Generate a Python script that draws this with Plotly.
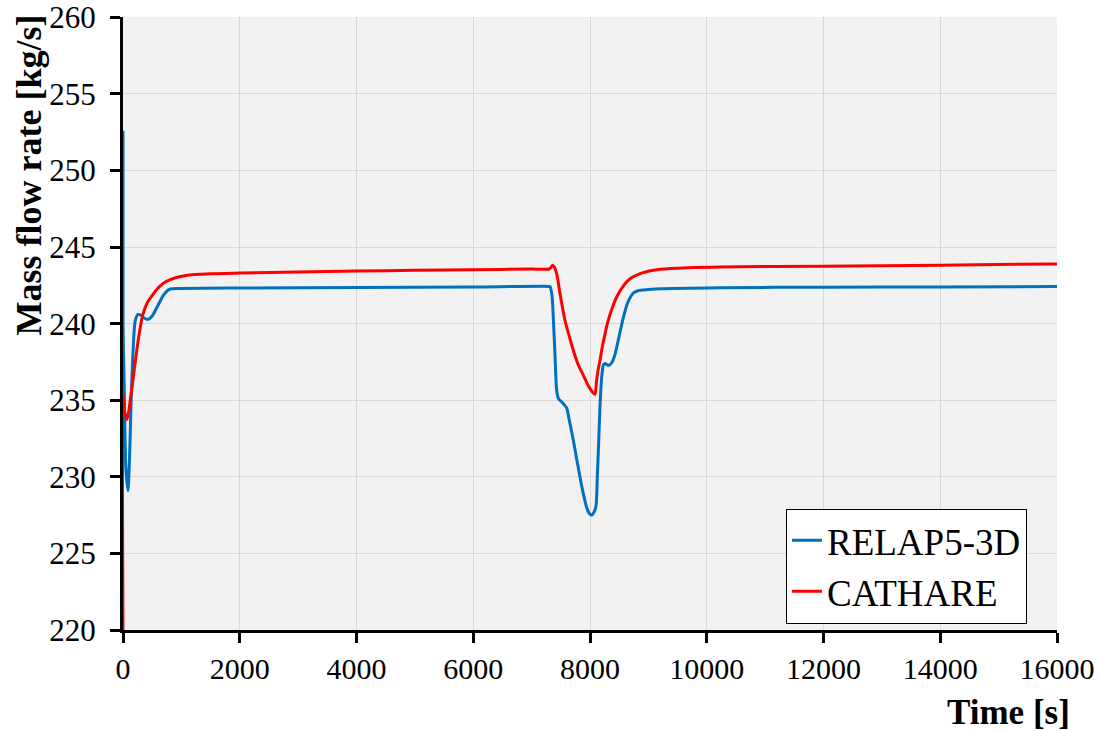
import plotly.graph_objects as go

# RELAP5-3D mass flow rate [kg/s] vs time [s]
relap_t = [0, 0.5, 20, 50, 85, 110, 140, 170, 210, 260, 310, 370, 430, 500, 600, 700, 800,
           1000, 2000, 4000, 6000, 7300, 7315, 7350, 7371, 7400, 7429, 7460, 7514, 7560,
           7600, 7650, 7714, 7770, 7828, 7885, 7943, 7990, 8029, 8070, 8103, 8125, 8143,
           8170, 8200, 8230, 8257, 8300, 8331, 8380, 8429, 8500, 8571, 8650, 8743, 8820,
           8914, 9200, 10227, 12000, 14000, 16000]
relap_v = [252.6, 240.0, 236.0, 230.5, 229.1, 231.0, 235.0, 238.0, 240.2, 240.6, 240.55,
           240.35, 240.28, 240.5, 241.2, 241.9, 242.25, 242.3, 242.33, 242.36, 242.4, 242.43,
           242.42, 241.8, 240.4, 238.0, 235.65, 235.1, 234.9, 234.7, 234.5, 233.6, 232.4,
           231.2, 230.0, 228.9, 228.0, 227.6, 227.5, 227.7, 228.1, 230.0, 231.7, 234.5,
           236.5, 237.3, 237.4, 237.3, 237.3, 237.5, 238.0, 239.2, 240.4, 241.4, 242.0,
           242.15, 242.2, 242.28, 242.35, 242.38, 242.4, 242.42]

# CATHARE mass flow rate [kg/s] vs time [s]
cathare_t = [0, 1, 30, 68, 100, 130, 170, 220, 280, 341, 420, 511, 620, 739, 900, 1080,
             1500, 2000, 3000, 4000, 5000, 6000, 7000, 7300, 7330, 7354, 7380, 7429, 7486,
             7571, 7650, 7714, 7800, 7886, 7950, 8000, 8050, 8086, 8110, 8140, 8171, 8200,
             8250, 8297, 8370, 8457, 8560, 8686, 8850, 9086, 9371, 10227, 12000, 14000, 16000]
cathare_v = [220.0, 235.3, 234.2, 233.75, 234.3, 235.2, 236.3, 237.8, 239.4, 240.6, 241.4,
             241.9, 242.4, 242.75, 243.0, 243.15, 243.25, 243.3, 243.38, 243.43, 243.48,
             243.52, 243.56, 243.57, 243.65, 243.8, 243.75, 243.26, 241.96, 240.22, 239.1,
             238.26, 237.3, 236.63, 236.1, 235.76, 235.5, 235.39, 236.2, 237.0, 237.6, 238.26,
             239.2, 240.0, 240.9, 241.74, 242.4, 242.93, 243.25, 243.48, 243.6, 243.7, 243.75,
             243.82, 243.9]

x_ticks = list(range(0, 16001, 2000))
y_ticks = list(range(220, 261, 5))

FONT = "'Liberation Serif', 'Times New Roman', serif"

fig = go.Figure()
fig.add_trace(go.Scatter(x=relap_t, y=relap_v, mode="lines", name="RELAP5-3D",
                         line=dict(color="#0070C0", width=3, shape="spline", smoothing=0.7)))
fig.add_trace(go.Scatter(x=cathare_t, y=cathare_v, mode="lines", name="CATHARE",
                         line=dict(color="#FF0000", width=3, shape="spline", smoothing=0.7)))

fig.update_layout(
    width=1100, height=731,
    margin=dict(l=123, r=43, t=17, b=101, autoexpand=False),
    paper_bgcolor="white",
    plot_bgcolor="#F2F2F2",
    font=dict(family=FONT, color="black", size=30),
    showlegend=True,
    legend=dict(x=0.7098, y=0.198, xanchor="left", yanchor="top",
                bgcolor="white", bordercolor="black", borderwidth=1,
                font=dict(family=FONT, size=37, color="black"),
                tracegroupgap=0, itemwidth=30),
)

fig.update_xaxes(
    range=[0, 16000], tickvals=x_ticks, ticktext=[str(v) for v in x_ticks],
    showgrid=True, gridcolor="#D9D9D9", gridwidth=1,
    showline=True, linecolor="black", linewidth=3,
    ticks="outside", ticklen=10, tickwidth=2.5, tickcolor="black",
    tickfont=dict(family=FONT, size=30), zeroline=False, automargin=False,
)
fig.update_yaxes(
    range=[220, 260.02], tickvals=y_ticks, ticktext=[str(v) for v in y_ticks],
    showgrid=True, gridcolor="#D9D9D9", gridwidth=1,
    showline=True, linecolor="black", linewidth=3,
    ticks="outside", ticklen=10, tickwidth=2.5, tickcolor="black",
    ticklabelstandoff=8,
    tickfont=dict(family=FONT, size=31), zeroline=False, automargin=False,
)

# Axis titles: y title hugging the top-left, x title at the bottom-right
fig.add_annotation(text="<b>Mass flow rate [kg/s]</b>", xref="paper", yref="paper",
                   x=0, y=1, xshift=-95, yshift=4, xanchor="center", yanchor="top",
                   textangle=-90, showarrow=False,
                   font=dict(family=FONT, size=36, color="black"))
fig.add_annotation(text="<b>Time [s]</b>", xref="paper", yref="paper",
                   x=1, y=0, xshift=15, yshift=-82, xanchor="right", yanchor="middle",
                   showarrow=False,
                   font=dict(family=FONT, size=35, color="black"))

fig.write_html("out.html")
